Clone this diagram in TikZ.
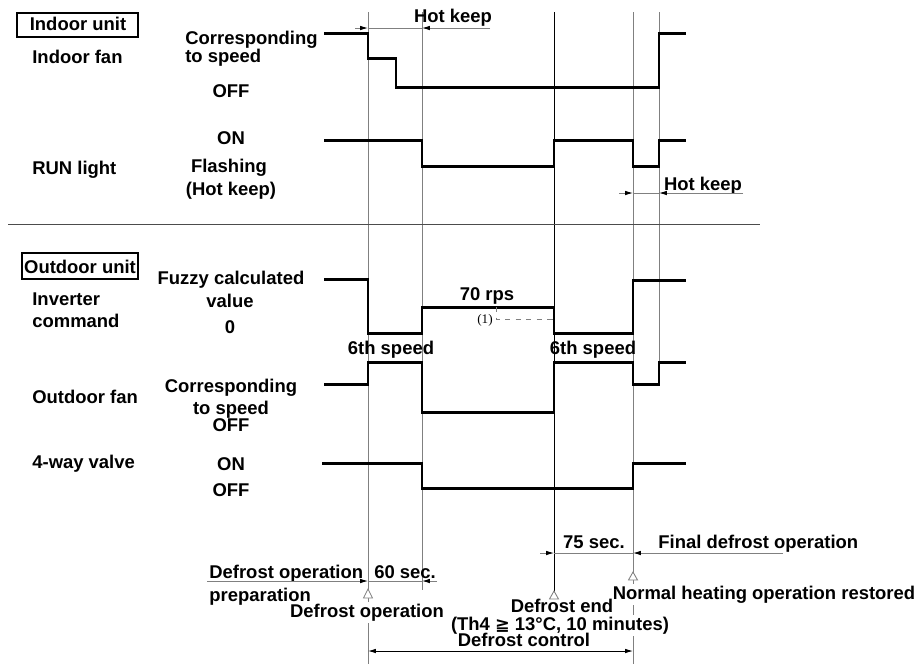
\documentclass[tikz,border=0pt]{standalone}
\usepackage{fontspec}
\setmainfont{Liberation Sans}
\newfontfamily\parenfont{Liberation Serif}
\newfontfamily\symbfont{DejaVu Sans}
\usetikzlibrary{arrows.meta}

\begin{document}
\begin{tikzpicture}[x=0.02cm, y=-0.02cm,
  txt/.style={font=\bfseries\fontsize{10.5}{12}\selectfont, inner sep=0pt},
  wtxt/.style={txt, fill=white, inner sep=1pt},
  sig/.style={line width=1.7pt, line join=miter},
  grid/.style={draw=gray, line width=0.5pt},
  dim/.style={draw=gray, line width=0.5pt, >={Latex[length=4.5pt,width=2.6pt,color=black]}},
  tmark/.style={draw=gray, fill=white, line width=0.5pt}]
\useasboundingbox (0,0) rectangle (921,664);

% time lines
\coordinate (t1a) at (368,12);
\coordinate (t1b) at (368,664);
\coordinate (t2a) at (422,12);
\coordinate (t2b) at (422,590);
\coordinate (t3a) at (554,12);
\coordinate (t3b) at (554,592);
\coordinate (t4a) at (633,12);
\coordinate (t4b) at (633,664);
\coordinate (t5a) at (659,12);
\coordinate (t5b) at (659,384);
\draw[grid] (t1a) -- (t1b);
\draw[grid] (t2a) -- (t2b);
\draw[line width=0.5pt] (t3a) -- (t3b);
\draw[grid] (t4a) -- (t4b);
\draw[grid] (t5a) -- (t5b);

% separator
\coordinate (sepl) at (8,224);
\coordinate (sepr) at (760,224);
\draw[line width=0.5pt, black!70] (sepl) -- (sepr);

% indoor unit
\draw[line width=0.6pt] (17,13) rectangle (138,37);
\node[txt, anchor=base] (indoorlbl) at (78,30) {Indoor unit};
\node[txt, anchor=base west] (fan) at (32,63) {Indoor fan};
\node[txt, anchor=base west] (corr1) at (185,44) {Corresponding};
\node[txt, anchor=base west] (spd1) at (185,62) {to speed};
\node[txt, anchor=base] (off1) at (231,97) {OFF};
\node[txt, anchor=base] (on1) at (231,144) {ON};
\node[txt, anchor=base west] (run) at (32,174) {RUN light};
\node[txt, anchor=base] (flash) at (229,172) {Flashing};
\node[txt, anchor=base] (hk) at (231,195) {(Hot keep)};

\draw[sig] (324,33) -- (368,33) -- (368,58) -- (396,58) -- (396,87)
  -- (659,87) -- (659,33) -- (686,33);
\draw[sig] (324,140) -- (422,140) -- (422,166) -- (554,166) -- (554,140)
  -- (633,140) -- (633,166) -- (659,166) -- (659,140) -- (686,140);

% hot keep (top)
\node[txt, anchor=base] (hktop) at (453,22) {Hot keep};
\coordinate (hk1l) at (355,28);
\coordinate (hk1a) at (368,28);
\coordinate (hk1b) at (422,28);
\coordinate (hk1r) at (490,28);
\draw[dim] (hk1a) -- (hk1b);
\draw[dim,->] (hk1l) -- (hk1a);
\draw[dim,->] (hk1r) -- (hk1b);

% hot keep (bottom)
\node[txt, anchor=base] (hkbot) at (703,190) {Hot keep};
\coordinate (hk2l) at (619,193);
\coordinate (hk2a) at (633,193);
\coordinate (hk2b) at (659,193);
\coordinate (hk2r) at (743,193);
\draw[dim] (hk2a) -- (hk2b);
\draw[dim,->] (hk2l) -- (hk2a);
\draw[dim,->] (hk2r) -- (hk2b);

% outdoor unit
\draw[line width=0.6pt] (22,253) rectangle (138,279);
\node[txt, anchor=base] (outdoorlbl) at (80,273) {Outdoor unit};
\node[txt, anchor=base west] (inv1) at (32,305) {Inverter};
\node[txt, anchor=base west] (inv2) at (32,327) {command};
\node[txt, anchor=base] (fuzzy) at (231,284) {Fuzzy calculated};
\node[txt, anchor=base] (value) at (230,307) {value};
\node[txt, anchor=base] (zero) at (230,333) {0};
\node[txt, anchor=base] (rps) at (487,300) {70 rps};
\node[txt, anchor=base] (sixl) at (391,354) {6th speed};
\node[txt, anchor=base] (sixr) at (593,354) {6th speed};
\node[txt, anchor=base west] (ofan) at (32,403) {Outdoor fan};
\node[txt, anchor=base] (corr2) at (231,392) {Corresponding};
\node[txt, anchor=base] (spd2) at (231,414) {to speed};
\node[txt, anchor=base] (off2) at (231,431) {OFF};

\draw[sig] (324,279) -- (368,279) -- (368,333) -- (422,333) -- (422,307)
  -- (554,307) -- (554,333) -- (633,333) -- (633,280) -- (686,280);
\draw[sig] (324,384) -- (368,384) -- (368,362) -- (422,362) -- (422,412)
  -- (554,412) -- (554,362) -- (633,362) -- (633,384) -- (659,384)
  -- (659,362) -- (686,362);

% (1)
\coordinate (d1a) at (496,307);
\coordinate (d1b) at (496,319);
\coordinate (d1c) at (554,319);
\draw[gray, line width=0.5pt, dashed] (d1a) -- (d1b) -- (d1c);
\node[inner sep=0pt, font=\parenfont\fontsize{7.5}{8}\selectfont] (one) at (485,320) {(1)};

% 4-way valve
\node[txt, anchor=base west] (valve) at (32,468) {4-way valve};
\node[txt, anchor=base] (on2) at (231,470) {ON};
\node[txt, anchor=base] (off3) at (231,496) {OFF};
\draw[sig] (322,463) -- (422,463) -- (422,488) -- (633,488) -- (633,463) -- (686,463);

% 75 sec
\node[txt, anchor=base] (sec75) at (594,548) {75 sec.};
\node[txt, anchor=base west] (final) at (658,548) {Final defrost operation};
\coordinate (d75l) at (540,553);
\coordinate (d75a) at (554,553);
\coordinate (d75b) at (633,553);
\coordinate (d75r) at (783,553);
\draw[dim] (d75a) -- (d75b);
\draw[dim,->] (d75l) -- (d75a);
\draw[dim,->] (d75r) -- (d75b);

% 60 sec
\node[txt, anchor=base west] (prep1) at (209,578) {Defrost operation};
\node[txt, anchor=base west] (prep2) at (209,601) {preparation};
\node[txt, anchor=base west] (sec60) at (374,578) {60 sec.};
\coordinate (d60l) at (207,581);
\coordinate (d60a) at (368,581);
\coordinate (d60b) at (422,581);
\coordinate (d60r) at (437,581);
\draw[dim] (d60a) -- (d60b);
\draw[dim,->] (d60l) -- (d60a);
\draw[dim,->] (d60r) -- (d60b);

% markers
\draw[tmark] (368,598) -- (372.5,598) -- (368,589) -- (363.5,598) -- cycle;
\draw[tmark] (554,599) -- (558.5,599) -- (554,591) -- (549.5,599) -- cycle;
\draw[tmark] (633,580) -- (637.5,580) -- (633,572) -- (628.5,580) -- cycle;

\node[wtxt, anchor=base] (dop) at (367,617) {Defrost operation};
\node[wtxt, anchor=base] (nheat) at (764,599) {Normal heating operation restored};
\node[txt, anchor=base] (dend) at (562,612) {Defrost end};
\node[wtxt, anchor=base] (cond) at (560,630) {(Th4 {\symbfont\fontsize{10}{12}\selectfont ≧} 13°C, 10 minutes)};
\node[txt, anchor=base] (dctrl) at (524,646) {Defrost control};

% defrost control
\coordinate (dcl) at (368,651);
\coordinate (dcr) at (633,651);
\draw[line width=0.5pt, >={Latex[length=4.5pt,width=2.6pt]}, <->] (dcl) -- (dcr);

\end{tikzpicture}
\end{document}
